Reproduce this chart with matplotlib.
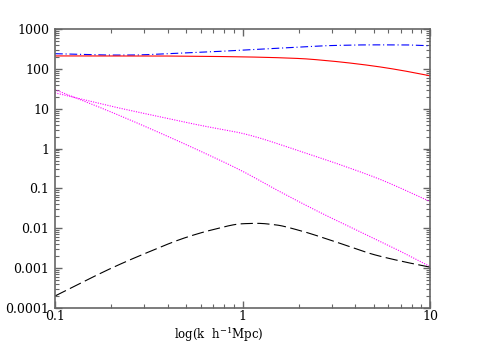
import numpy as np
import matplotlib
matplotlib.use("Agg")
import matplotlib.pyplot as plt
from matplotlib.ticker import LogLocator, NullFormatter, FixedLocator, FixedFormatter

# values (k in h/Mpc)
k_blue = [0.1, 0.15, 0.2, 0.25, 0.4, 0.7, 1.0, 2.0, 3.0, 5.0, 7.0, 10.0]
p_blue = [240, 228, 222, 222, 240, 270, 295, 350, 385, 400, 400, 380]

k_red = [0.1, 0.2, 0.3, 0.5, 1.0, 2.0, 2.93, 4.0, 5.4, 7.0, 10.0]
p_red = [211, 211, 211, 208, 200, 182, 158, 135, 112, 92, 67]

k_dot1 = [0.1, 0.2, 0.32, 0.6, 1.0, 2.0, 3.5, 5.4, 10.0]
p_dot1 = [25, 11.5, 7.1, 3.8, 2.4, 0.88, 0.36, 0.17, 0.047]

k_dot2 = [0.1, 0.15, 0.2, 0.32, 0.6, 1.0, 1.5, 2.59, 4.0, 6.5, 10.0]
p_dot2 = [30, 14.2, 8.2, 3.2, 0.85, 0.27, 0.095, 0.025, 0.0093, 0.0031, 0.0011]

k_dash = [0.1, 0.2, 0.3, 0.5, 0.7, 1.0, 1.2, 1.5, 2.0, 3.0, 5.0, 7.0, 10.0]
p_dash = [0.0002, 0.001, 0.0023, 0.0059, 0.0093, 0.013, 0.0133, 0.0122, 0.0089, 0.0049, 0.0022, 0.0015, 0.00106]

plt.rcParams['font.family'] = ['DejaVu Serif']
plt.rcParams['mathtext.fontset'] = 'dejavuserif'


def pchip(k, p, n=300):
    # monotone cubic through the read points, done in log-log space
    x = np.log10(k)
    y = np.log10(p)
    h = np.diff(x)
    d = np.diff(y) / h
    m = np.zeros_like(y)
    for i in range(1, len(y) - 1):
        if d[i - 1] * d[i] > 0:
            w1 = 2 * h[i] + h[i - 1]
            w2 = h[i] + 2 * h[i - 1]
            m[i] = (w1 + w2) / (w1 / d[i - 1] + w2 / d[i])
    m[0] = d[0]
    m[-1] = d[-1]
    xs = np.linspace(x[0], x[-1], n)
    idx = np.clip(np.searchsorted(x, xs) - 1, 0, len(h) - 1)
    t = (xs - x[idx]) / h[idx]
    h00 = 2 * t**3 - 3 * t**2 + 1
    h10 = t**3 - 2 * t**2 + t
    h01 = -2 * t**3 + 3 * t**2
    h11 = t**3 - t**2
    ys = h00 * y[idx] + h10 * h[idx] * m[idx] + h01 * y[idx + 1] + h11 * h[idx] * m[idx + 1]
    return 10 ** xs, 10 ** ys


fig = plt.figure(figsize=(4.9, 3.46), dpi=100)
ax = fig.add_axes([55 / 490, 1 - 308 / 346, 375 / 490, 279 / 346])

x, y = pchip(k_blue, p_blue)
ax.plot(x, y, color='#0000ff', lw=0.8, dashes=(7, 2.5, 1, 2.5))
x, y = pchip(k_red, p_red)
ax.plot(x, y, color='#ff0000', lw=0.8)
x, y = pchip(k_dot1, p_dot1)
ax.plot(x, y, color='#ff00ff', lw=0.8, dashes=(1, 1.2))
x, y = pchip(k_dot2, p_dot2)
ax.plot(x, y, color='#ff00ff', lw=0.8, dashes=(1, 1.2))
x, y = pchip(k_dash, p_dash)
ax.plot(x, y, color='black', lw=0.8, dashes=(11, 4))

ax.set_xscale('log')
ax.set_yscale('log')
ax.set_xlim(0.1, 10)
ax.set_ylim(1e-4, 1e3)

ax.xaxis.set_major_locator(FixedLocator([0.1, 1, 10]))
ax.xaxis.set_major_formatter(FixedFormatter(['0.1', '1', '10']))
ax.xaxis.set_minor_locator(LogLocator(base=10, subs=np.arange(2, 10), numticks=20))
ax.xaxis.set_minor_formatter(NullFormatter())
yt = [1e-4, 1e-3, 1e-2, 1e-1, 1, 10, 100, 1000]
ax.yaxis.set_major_locator(FixedLocator(yt))
ax.yaxis.set_major_formatter(FixedFormatter(['0.0001', '0.001', '0.01', '0.1', '1', '10', '100', '1000']))
ax.yaxis.set_minor_locator(LogLocator(base=10, subs=np.arange(2, 10), numticks=20))
ax.yaxis.set_minor_formatter(NullFormatter())

ax.tick_params(which='both', direction='in', top=True, right=True, color='#666666', labelsize=9)
ax.tick_params(which='major', length=5, width=1)
ax.tick_params(which='minor', length=3, width=0.8)
ax.tick_params(axis='x', which='major', pad=1.5)
ax.tick_params(axis='y', which='major', pad=4)
for s in ax.spines.values():
    s.set_color('#666666')
    s.set_linewidth(1.2)

ax.set_xlabel(r'log(k  h$^{-1}$Mpc)', fontsize=8.5)
ax.xaxis.set_label_coords((219 - 55) / 375, -0.062)

fig.savefig('out.png', dpi=100)
